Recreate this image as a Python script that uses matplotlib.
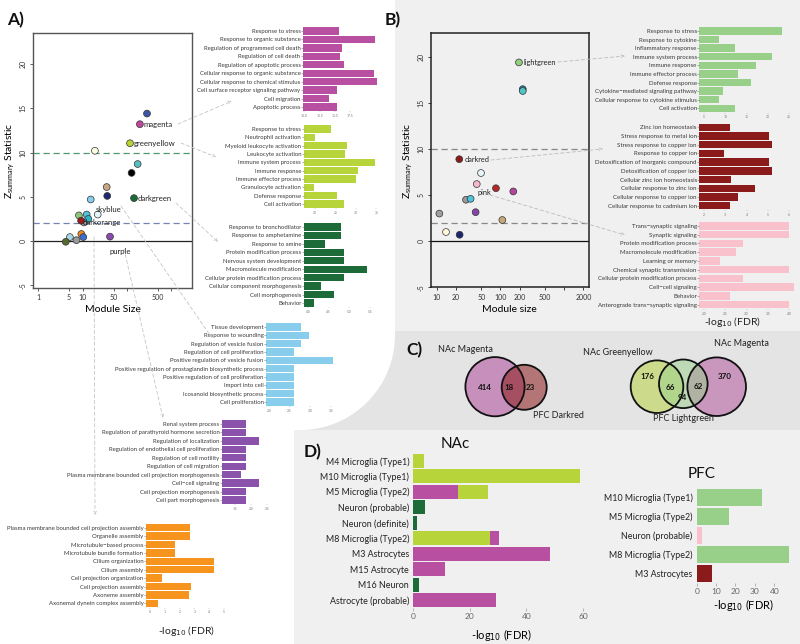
import matplotlib
matplotlib.use("Agg")
import matplotlib.pyplot as plt
import numpy as np
from matplotlib.patches import Circle, Polygon, Rectangle

plt.rcParams['font.family'] = ['Lato', 'DejaVu Sans']

# ---------------- DATA ----------------
# Panel A scatter (NAc modules)
a_size = [282, 195, 117, 19, 174, 127, 35, 36, 144, 15.3, 22, 8.3, 12.4, 10.8, 13.5, 9.3, 9.4, 10.4, 5.2, 7.3, 4.2, 41.5]
a_z = [14.4, 13.2, 11.05, 10.2, 8.7, 7.7, 6.1, 5.1, 4.85, 4.7, 3.0, 2.9, 3.0, 2.1, 2.5, 2.3, 0.8, 0.45, 0.45, 0.1, -0.08, 0.5]
a_col = ['#3a56a6', '#c0479c', '#b9d334', '#fffde0', '#55bfc0', '#000000', '#c8a882', '#1f2a6e', '#1a6b35',
         '#86ceeb', '#e4f5f8', '#90c57e', '#4fc3dc', '#a0a0a0', '#2ab6c6', '#9a1b1b', '#f28a1a', '#3f6ccf',
         '#a9d6e6', '#9a9a9a', '#556b2f', '#8a4ab0']
a_labels = {'magenta': 1, 'greenyellow': 2, 'darkgreen': 8, 'skyblue': 9, 'darkorange': 16, 'purple': 21}

# Panel B scatter (PFC modules)
b_size = [195, 224, 224, 22.6, 49.5, 42.5, 85, 159, 28.8, 34, 40.8, 11, 107, 14, 22.9]
b_z = [19.4, 16.5, 16.3, 8.9, 7.4, 6.2, 5.75, 5.4, 4.5, 4.6, 3.15, 3.0, 2.3, 1.0, 0.7]
b_col = ['#92cf7e', '#2a7ea0', '#4cc6c6', '#8b1a1a', '#e8f6fa', '#f5b8c8', '#b22a2a', '#b4449c', '#9a9a9a',
         '#4ec3dc', '#8444a8', '#a0a0a0', '#c9a878', '#fffbd8', '#1c2670']

# Panel A enrichment bars
mag_terms = ['Response to stress', 'Response to organic substance', 'Regulation of programmed cell death',
             'Regulation of cell death', 'Regulation of apoptotic process', 'Cellular response to organic substance',
             'Cellular response to chemical stimulus', 'Cell surface receptor signaling pathway', 'Cell migration',
             'Apoptotic process']
mag_vals = [15.7, 21.6, 16.2, 15.9, 16.5, 21.4, 21.9, 15.4, 14.0, 15.4]
mag_ticks = [10.0, 12.5, 15.0, 17.5]

gy_terms = ['Response to stress', 'Neutrophil activation', 'Myeloid leukocyte activation', 'Leukocyte activation',
            'Immune system process', 'Immune response', 'Immune effector process', 'Granulocyte activation',
            'Defense response', 'Cell activation']
gy_vals = [23.9, 20.0, 27.9, 27.2, 34.6, 30.5, 29.9, 19.7, 25.3, 27.1]
gy_ticks = [20, 25, 30, 35]

dg_terms = ['Response to bronchodilator', 'Response to amphetamine', 'Response to amine', 'Protein modification process',
            'Nervous system development', 'Macromolecule modification', 'Cellular protein modification process',
            'Cellular component morphogenesis', 'Cell morphogenesis', 'Behavior']
dg_vals = [4.79, 4.79, 4.41, 4.87, 4.87, 5.43, 4.87, 4.31, 4.63, 4.15]
dg_ticks = [4.0, 4.5, 5.0, 5.5]

sb_terms = ['Tissue development', 'Response to wounding', 'Regulation of vesicle fusion',
            'Regulation of cell proliferation', 'Positive regulation of vesicle fusion',
            'Positive regulation of prostaglandin biosynthetic process', 'Positive regulation of cell proliferation',
            'Import into cell', 'Icosanoid biosynthetic process', 'Cell proliferation']
sb_vals = [2.77, 2.97, 2.77, 2.6, 3.55, 2.6, 2.6, 2.6, 2.6, 2.6]
sb_ticks = [2.0, 2.5, 3.0, 3.5]

pu_terms = ['Renal system process', 'Regulation of parathyroid hormone secretion', 'Regulation of localization',
            'Regulation of endothelial cell proliferation', 'Regulation of cell motility', 'Regulation of cell migration',
            'Plasma membrane bounded cell projection morphogenesis', 'Cell\u2212cell signaling',
            'Cell projection morphogenesis', 'Cell part morphogenesis']
pu_vals = [1.84, 1.84, 2.26, 1.84, 1.84, 1.84, 1.69, 2.26, 1.84, 1.84]
pu_ticks = [1.5, 2.0, 2.5]

or_terms = ['Plasma membrane bounded cell projection assembly', 'Organelle assembly', 'Microtubule\u2212based process',
            'Microtubule bundle formation', 'Cilium organization', 'Cilium assembly', 'Cell projection organization',
            'Cell projection assembly', 'Axoneme assembly', 'Axonemal dynein complex assembly']
or_vals = [2.7, 2.7, 1.69, 1.69, 4.34, 4.34, 0.79, 2.75, 2.61, 0.56]
or_ticks = [0, 1, 2, 3, 4, 5]

# Panel B enrichment bars
lg_terms = ['Response to stress', 'Response to cytokine', 'Inflammatory response', 'Immune system process',
            'Immune response', 'Immune effector process', 'Defense response', 'Cytokine\u2212mediated signaling pathway',
            'Cellular response to cytokine stimulus', 'Cell activation']
lg_vals = [23.2, 8.6, 12.2, 21.0, 17.1, 12.9, 16.0, 9.4, 8.6, 12.2]
lg_ticks = [5, 10, 15, 20, 25]

dr_terms = ['Zinc ion homeostasis', 'Stress response to metal ion', 'Stress response to copper ion',
            'Response to copper ion', 'Detoxification of inorganic compound', 'Detoxification of copper ion',
            'Cellular zinc ion homeostasis', 'Cellular response to zinc ion', 'Cellular response to copper ion',
            'Cellular response to cadmium ion']
dr_vals = [3.22, 5.04, 5.21, 2.95, 5.04, 5.21, 3.25, 4.38, 3.60, 3.22]
dr_ticks = [2, 3, 4, 5, 6]

pk_terms = ['Trans\u2212synaptic signaling', 'Synaptic signaling', 'Protein modification process',
            'Macromolecule modification', 'Learning or memory', 'Chemical synaptic transmission',
            'Cellular protein modification process', 'Cell\u2212cell signaling', 'Behavior',
            'Anterograde trans\u2212synaptic signaling']
pk_vals = [4.0, 4.0, 2.92, 2.75, 2.38, 4.0, 2.92, 4.11, 2.61, 4.0]
pk_ticks = [2.0, 2.5, 3.0, 3.5, 4.0]

# Panel C venn counts
venn1_counts = ['414', '18', '23']
venn2_counts = ['176', '66', '94', '62', '370']

# Panel D
nac_cats = ['M4 Microglia (Type1)', 'M10 Microglia (Type1)', 'M5 Microglia (Type2)', 'Neuron (probable)',
            'Neuron (definite)', 'M8 Microglia (Type2)', 'M3 Astrocytes', 'M15 Astrocyte', 'M16 Neuron',
            'Astrocyte (probable)']
nac_greenyellow = [3.9, 58.9, 26.5, 0, 0, 27.3, 0, 0, 0, 0]
nac_magenta = [0, 0, 15.8, 0, 0, 30.2, 48.3, 11.2, 0, 29.4]
nac_darkgreen = [0, 0, 0, 4.1, 1.4, 0, 0, 0, 2.0, 0]
nac_ticks = [0, 20, 40, 60]

pfc_cats = ['M10 Microglia (Type1)', 'M5 Microglia (Type2)', 'Neuron (probable)', 'M8 Microglia (Type2)', 'M3 Astrocytes']
pfc_vals = [33.8, 16.6, 2.6, 47.6, 7.7]
pfc_mod = ['lightgreen', 'lightgreen', 'pink', 'lightgreen', 'darkred']
pfc_ticks = [0, 10, 20, 30, 40]

COL = {'magenta': '#b94fa0', 'greenyellow': '#b7d43a', 'darkgreen': '#1e6b3a', 'skyblue': '#88cdec',
       'purple': '#8a52aa', 'orange': '#f7941d', 'lightgreen': '#98d08a', 'darkred': '#8b1a1a', 'pink': '#f8c1cc'}

# ---------------- FIGURE ----------------
W, H = 800, 644
fig = plt.figure(figsize=(8, 6.44), dpi=100)


def box(x0, y0, x1, y1):
    return [x0 / W, 1 - y1 / H, (x1 - x0) / W, (y1 - y0) / H]


# background
bg = fig.add_axes([0, 0, 1, 1], zorder=-10)
bg.set_xlim(0, W); bg.set_ylim(H, 0); bg.axis('off')
bg.add_patch(Rectangle((0, 0), W, H, color='#f0f0f0', lw=0))
bg.add_patch(Rectangle((290, 331), W - 290, 99, color='#e4e4e4', lw=0))
t = np.linspace(0, np.pi / 2, 40)
arc = [(300 + 95 * np.cos(a), 335 + 95 * np.sin(a)) for a in t]
poly = [(0, 0), (395, 0)] + arc + [(294, 430), (294, H), (0, H)]
bg.add_patch(Polygon(poly, closed=True, color='white', lw=0))


def bar_block(x_left, x_right, y_first, spacing, labels, values, color, ticks, tick_px0, px_per_unit,
              fmt='{:g}', fs=4.3, tfs=2.4, height=0.86):
    n = len(labels)
    ax = fig.add_axes(box(x_left, y_first - spacing / 2, x_right, y_first + spacing * (n - 0.5)))
    xmin = ticks[0] - (tick_px0 - x_left) / px_per_unit
    xmax = ticks[0] + (x_right - tick_px0) / px_per_unit
    ax.set_xlim(xmin, xmax)
    ax.set_ylim(n - 0.5, -0.5)
    ax.barh(np.arange(n), np.array(values) - xmin, left=xmin, height=height, color=color, lw=0)
    ax.set_yticks(range(n))
    ax.set_yticklabels(labels, fontsize=fs, color='#3a3a3a')
    ax.set_xticks(ticks)
    ax.set_xticklabels([fmt.format(v) for v in ticks])
    ax.tick_params(axis='y', length=1.2, width=0.4, color='#777', pad=0.6)
    ax.tick_params(axis='x', length=1.0, width=0.3, color='#999', labelsize=tfs, labelcolor='#777', pad=1.0)
    for s in ax.spines.values():
        s.set_visible(False)
    ax.patch.set_alpha(0)
    return ax


# Panel A bar blocks
bar_block(303, 380, 31, 8.44, mag_terms, mag_vals, COL['magenta'], mag_ticks, 304.3, 6.1, fmt='{:.1f}')
bar_block(303.7, 380, 129, 8.33, gy_terms, gy_vals, COL['greenyellow'], gy_ticks, 315, 4.1)
bar_block(304, 372, 227, 8.44, dg_terms, dg_vals, COL['darkgreen'], dg_ticks, 308, 41.4, fmt='{:.1f}')
bar_block(266, 336, 327, 8.33, sb_terms, sb_vals, COL['skyblue'], sb_ticks, 269, 41.3, fmt='{:.1f}')
bar_block(222, 270, 424, 8.44, pu_terms, pu_vals, COL['purple'], pu_ticks, 235, 32, fmt='{:.1f}')
bar_block(146, 226, 527.7, 8.4, or_terms, or_vals, COL['orange'], or_ticks, 150, 14.8)

# Panel B bar blocks
bar_block(699.3, 796, 31, 8.59, lg_terms, lg_vals, COL['lightgreen'], lg_ticks, 704, 4.26, fs=4.4)
bar_block(699.3, 796, 127.3, 8.71, dr_terms, dr_vals, COL['darkred'], dr_ticks, 704, 21.3, fs=4.4)
bar_block(699.3, 796, 226, 8.74, pk_terms, pk_vals, COL['pink'], pk_ticks, 704, 42.6, fmt='{:.1f}', fs=4.4)

# ---------------- Panel A scatter ----------------
zlab = r'$\mathregular{Z_{summary}}$ Statistic'
axA = fig.add_axes(box(33, 33, 192, 288))
axA.set_xscale('log')
axA.set_xlim(0.77, 2900)
axA.set_ylim(-5.3, 23.5)
axA.axhline(10, color='#4f9a70', ls=(0, (5, 3)), lw=0.9)
axA.axhline(2, color='#7484b4', ls=(0, (5, 3)), lw=0.9)
axA.axhline(0, color='#222', lw=0.9)
axA.scatter(a_size, a_z, s=24, c=a_col, edgecolors='#333', linewidths=0.5, zorder=3)
axA.set_xticks([1, 5, 10, 50, 100, 500, 1000])
axA.set_xticklabels(['1', '5', '10', '50', '', '500', ''])
axA.minorticks_off()
axA.set_yticks([-5, 0, 5, 10, 15, 20])
axA.set_yticklabels(['-5', '0', '5', '10', '15', '20'], rotation=90, va='center')
axA.tick_params(labelsize=5, length=2.5, width=0.6, color='#444', labelcolor='#333', pad=2)
for s in axA.spines.values():
    s.set_color('#555'); s.set_linewidth(1.0)
axA.set_xlabel('Module Size', fontsize=7.5, labelpad=3)
axA.set_ylabel(zlab, fontsize=7.5, labelpad=2)
lab_off = {'magenta': (8, 0, 'left', 'center'), 'greenyellow': (8, 0, 'left', 'center'),
           'darkgreen': (8, 0, 'left', 'center'), 'skyblue': (0.12, -1.1, 'left', 'center'),
           'darkorange': (0.04, 1.35, 'left', 'center'), 'purple': (0.0, -1.7, 'left', 'center')}
for name, i in a_labels.items():
    dx, dy, ha, va = lab_off[name]
    if dx > 1:
        xx = a_size[i] * 1.22
    else:
        xx = a_size[i] * 10 ** dx
    axA.text(xx, a_z[i] + dy, name, fontsize=5.6, ha=ha, va=va, color='#222', zorder=4)

# ---------------- Panel B scatter ----------------
axB = fig.add_axes(box(430.7, 33.3, 589, 287.3))
axB.patch.set_alpha(0)
axB.set_xscale('log')
axB.set_xlim(8.05, 2450)
axB.set_ylim(-5.0, 22.56)
axB.axhline(10, color='#888', ls=(0, (5, 3)), lw=0.9)
axB.axhline(2, color='#888', ls=(0, (5, 3)), lw=0.9)
axB.axhline(0, color='#111', lw=0.9)
axB.scatter(b_size, b_z, s=24, c=b_col, edgecolors='#333', linewidths=0.5, zorder=3)
axB.set_xticks([10, 20, 50, 100, 200, 500, 1000, 2000])
axB.set_xticklabels(['10', '20', '50', '100', '200', '500', '', '2000'])
axB.minorticks_off()
axB.set_yticks([-5, 0, 5, 10, 15, 20])
axB.set_yticklabels(['-5', '0', '5', '10', '15', '20'], rotation=90, va='center')
axB.tick_params(labelsize=5, length=2.5, width=0.6, color='#222', labelcolor='#333', pad=2)
for s in axB.spines.values():
    s.set_color('#222'); s.set_linewidth(1.1)
axB.set_xlabel('Module size', fontsize=7.5, labelpad=3)
axB.set_ylabel(zlab, fontsize=7.5, labelpad=2)
axB.text(195 * 1.2, 19.4, 'lightgreen', fontsize=5.3, ha='left', va='center', color='#222')
axB.text(22.6 * 1.2, 8.9, 'darkred', fontsize=5.3, ha='left', va='center', color='#222')
axB.text(42.5 * 1.02, 5.3, 'pink', fontsize=5.3, ha='left', va='center', color='#222')

# ---------------- Panel D ----------------
axN = fig.add_axes(box(413.3, 453, 590, 607.8))
axN.patch.set_alpha(0)
n = len(nac_cats)
yy = np.arange(n)
for i in range(n):
    parts = [(nac_greenyellow[i], COL['greenyellow']), (nac_magenta[i], COL['magenta']),
             (nac_darkgreen[i], COL['darkgreen'])]
    parts = sorted([p for p in parts if p[0] > 0], key=lambda p: -p[0])
    for v, c in parts:
        axN.barh(i, v, height=0.9, color=c, lw=0)
axN.set_ylim(n - 0.5, -0.5)
axN.set_xlim(0, 62.5)
axN.set_yticks(yy)
axN.set_yticklabels(nac_cats, fontsize=6.4, color='#222')
axN.set_xticks(nac_ticks)
axN.tick_params(axis='y', length=0, pad=3)
axN.tick_params(axis='x', length=2, width=0.5, color='#999', labelsize=6, labelcolor='#666', pad=1.5)
for s in axN.spines.values():
    s.set_visible(False)
axN.set_xlabel(r'-log$_{10}$ (FDR)', fontsize=8, labelpad=5)

axP = fig.add_axes(box(696.7, 487.8, 790, 582.8))
axP.patch.set_alpha(0)
m = len(pfc_cats)
axP.barh(np.arange(m), pfc_vals, height=0.9, color=[COL[k] for k in pfc_mod], lw=0)
axP.set_ylim(m - 0.5, -0.5)
axP.set_xlim(0, 48.1)
axP.set_yticks(np.arange(m))
axP.set_yticklabels(pfc_cats, fontsize=6.4, color='#222')
axP.set_xticks(pfc_ticks)
axP.tick_params(axis='y', length=0, pad=3)
axP.tick_params(axis='x', length=2, width=0.5, color='#999', labelsize=6, labelcolor='#666', pad=1.5)
for s in axP.spines.values():
    s.set_visible(False)
axP.set_xlabel(r'-log$_{10}$ (FDR)', fontsize=8, labelpad=2)

# ---------------- Overlay: venns, connectors, labels ----------------
ov = fig.add_axes([0, 0, 1, 1], zorder=10)
ov.set_xlim(0, W); ov.set_ylim(H, 0); ov.axis('off'); ov.patch.set_alpha(0)


def circ(c, r, col, a=0.55):
    ov.add_patch(Circle(c, r, facecolor=col, alpha=a, lw=0))


def ring(c, r):
    ov.add_patch(Circle(c, r, fill=False, edgecolor='#111', lw=1.3))


# Venn 1
circ((495, 386.7), 29.6, '#b04a9a')
circ((524.2, 387.3), 22.5, '#8b1a1a')
ring((495, 386.7), 29.6); ring((524.2, 387.3), 22.5)
for txt, (x, y) in zip(venn1_counts, [(484.5, 387), (509.5, 387), (530, 387)]):
    ov.text(x, y, txt, fontsize=5.8, fontweight='bold', ha='center', va='center', color='#111')
ov.text(465, 349, 'NAc Magenta', fontsize=6.5, ha='center', va='center', color='#222')
ov.text(558, 415, 'PFC Darkred', fontsize=6.5, ha='center', va='center', color='#222')

# Venn 2
circ((657, 386.7), 26.3, '#b5d334', 0.5)
circ((716.7, 386.7), 29.3, '#b04a9a', 0.5)
circ((683.3, 383.8), 24.3, '#98d08a', 0.5)
ring((657, 386.7), 26.3); ring((716.7, 386.7), 29.3); ring((683.3, 383.8), 24.3)
for txt, (x, y) in zip(venn2_counts, [(647, 376), (670, 387), (682, 397), (698.5, 386), (725, 376)]):
    ov.text(x, y, txt, fontsize=5.8, fontweight='bold', ha='center', va='center', color='#111')
ov.text(618, 352, 'NAc Greenyellow', fontsize=6.5, ha='center', va='center', color='#222')
ov.text(741, 343.5, 'NAc Magenta', fontsize=6.5, ha='center', va='center', color='#222')
ov.text(683.3, 418, 'PFC Lightgreen', fontsize=6.5, ha='center', va='center', color='#222')

# panel titles
ov.text(455, 444, 'NAc', fontsize=11, ha='center', va='center', color='#111')
ov.text(701.7, 473.5, 'PFC', fontsize=11, ha='center', va='center', color='#111')
for txt, (x, y) in zip(['A)', 'B)', 'C)', 'D)'], [(16, 20), (393, 20), (414, 350), (313, 452)]):
    ov.text(x, y, txt, fontsize=12.5, fontweight='bold', ha='center', va='center', color='#111')
ov.text(187, 631, r'-log$_{10}$ (FDR)', fontsize=7.5, ha='center', va='center', color='#222')
ov.text(733, 322, r'-log$_{10}$ (FDR)', fontsize=7.5, ha='center', va='center', color='#222')

# connectors
for (x0, y0), (x1, y1) in [((178, 124), (232, 101)), ((181, 143), (216, 157)), ((176, 203), (218, 242)),
                           ((121, 206), (212, 338)), ((94, 237), (95, 515)), ((124, 249), (163, 418))]:
    ov.annotate('', xy=(x1, y1), xytext=(x0, y0),
                arrowprops=dict(arrowstyle='->', color='#c4c4c4', lw=0.6, ls=(0, (4, 3)),
                                shrinkA=0, shrinkB=0, mutation_scale=5))
for (x0, y0), (x1, y1) in [((558, 62), (625, 56)), ((491, 160), (603, 149)), ((490, 195), (625, 235))]:
    ov.annotate('', xy=(x1, y1), xytext=(x0, y0),
                arrowprops=dict(arrowstyle='->', color='#bbbbbb', lw=0.6, ls=(0, (4, 3)),
                                shrinkA=0, shrinkB=0, mutation_scale=5))

fig.savefig('out.png', dpi=100)
